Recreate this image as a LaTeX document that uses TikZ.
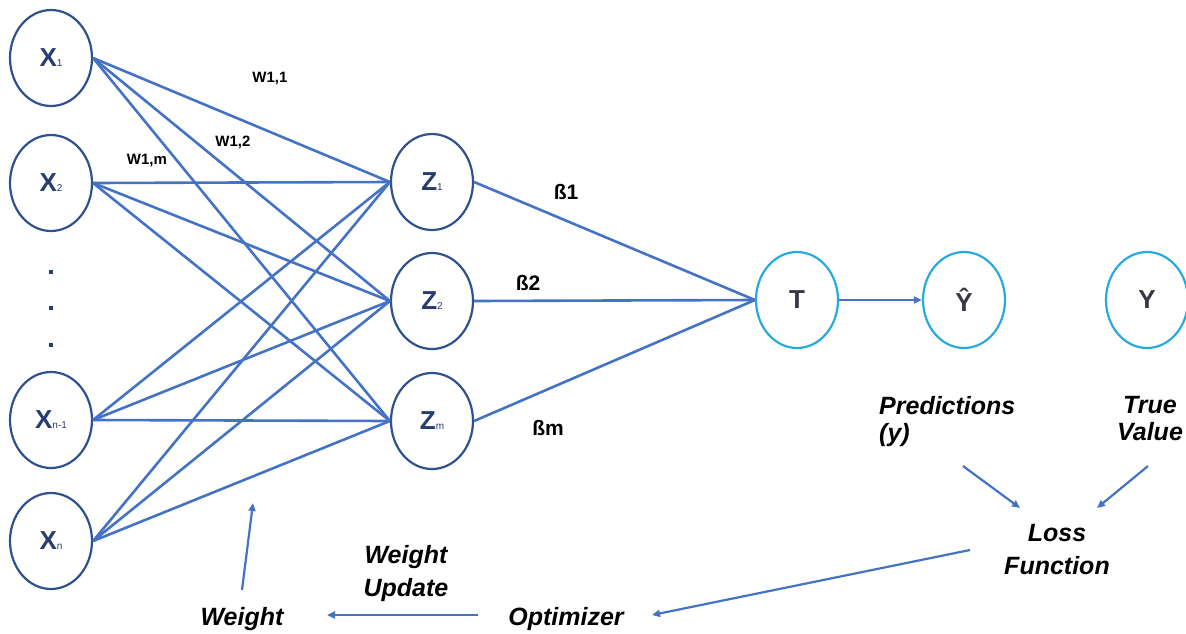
\documentclass[tikz,border=0pt]{standalone}
\usepackage{fontspec}
\setmainfont{Liberation Sans}
\usetikzlibrary{arrows.meta,shapes.geometric}
\definecolor{navy}{RGB}{47,82,143}
\definecolor{lblue}{RGB}{68,114,196}
\definecolor{cyanc}{RGB}{40,170,220}
\definecolor{ntext}{RGB}{40,60,112}
\definecolor{gtext}{RGB}{55,55,70}
\newcommand{\sbs}[1]{{\fontsize{10}{10}\selectfont\mdseries #1}}
\begin{document}
\begin{tikzpicture}[x=1pt,y=-1pt,
  neuron/.style={draw=navy, line width=2.2pt, ellipse, minimum width=82pt, minimum height=96pt, inner sep=0pt, font=\fontsize{26}{26}\selectfont\bfseries, text=ntext},
  outn/.style={neuron, draw=cyanc, text=gtext},
  edge/.style={draw=lblue, line width=2.6pt},
  arr/.style={draw=lblue, line width=2.2pt, -{Triangle[length=8pt,width=7pt]}},
  wlab/.style={font=\fontsize{15}{15}\selectfont\bfseries, inner sep=0pt},
  blab/.style={font=\fontsize{21}{21}\selectfont\bfseries, inner sep=0pt},
  itl/.style={font=\fontsize{25}{33}\selectfont\bfseries\itshape, inner sep=0pt, align=center},
  dotn/.style={rectangle, fill=ntext, inner sep=0pt, minimum size=4pt}
]
\useasboundingbox (0,0) rectangle (1186,633);
% input layer
\node[neuron] (x1) at (51,58) {X\sbs{1}};
\node[neuron] (x2) at (51,183) {X\sbs{2}};
\node[neuron] (xn1) at (51,420) {X\sbs{n-1}};
\node[neuron] (xn) at (51,541) {X\sbs{n}};
\node[dotn] (d1) at (51,272) {};
\node[dotn] (d2) at (51,308) {};
\node[dotn] (d3) at (51,345) {};
% hidden layer
\node[neuron] (z1) at (432,182) {Z\sbs{1}};
\node[neuron] (z2) at (432,301) {Z\sbs{2}};
\node[neuron] (zm) at (432,421) {Z\sbs{m}};
% output
\node[outn] (t) at (797,300) {T};
\node[outn] (yh) at (964,300) {Ŷ};
\node[outn] (y) at (1147,300) {Y};
% edges
\foreach \a in {x1,x2,xn1,xn}
  \foreach \b in {z1,z2,zm}
    \draw[edge] (\a.east) -- (\b.west);
\foreach \b in {z1,z2,zm}
  \draw[edge] (\b.east) -- (t.west);
\draw[arr] (t.east) -- (yh.west);
% weight labels
\node[wlab] (w11) at (270,78) {W1,1};
\node[wlab] (w12) at (233,142) {W1,2};
\node[wlab] (w1m) at (147,160) {W1,m};
\node[blab] (b1) at (566,192) {ß1};
\node[blab] (b2) at (528,283) {ß2};
\node[blab] (bm) at (548,428) {ßm};
% italic labels
\node[itl, anchor=north west, align=left, font=\fontsize{25}{27}\selectfont\bfseries\itshape] (pred) at (879,396) {Predictions\\(y)};
\node[itl, anchor=north, font=\fontsize{25}{27}\selectfont\bfseries\itshape] (tv) at (1150,396) {True\\Value};
\node[itl, anchor=north] (loss) at (1057,524) {Loss\\Function};
\node[itl, anchor=north] (wu) at (406,545) {Weight\\Update};
\node[itl, anchor=base] (wt) at (242,625) {Weight};
\node[itl, anchor=base] (opt) at (566,625) {Optimizer};
% arrows
\coordinate (pa) at (963,466);
\coordinate (pb) at (1020,508);
\coordinate (ta) at (1148,466);
\coordinate (tb) at (1097,508);
\coordinate (la) at (970,550);
\coordinate (lb) at (652,615);
\coordinate (oa) at (478,615);
\coordinate (ob) at (327,615);
\coordinate (wa) at (242,590);
\coordinate (wb) at (253,503);
\draw[arr] (pa) -- (pb);
\draw[arr] (ta) -- (tb);
\draw[arr] (la) -- (lb);
\draw[arr] (oa) -- (ob);
\draw[arr] (wa) -- (wb);
\end{tikzpicture}
\end{document}
